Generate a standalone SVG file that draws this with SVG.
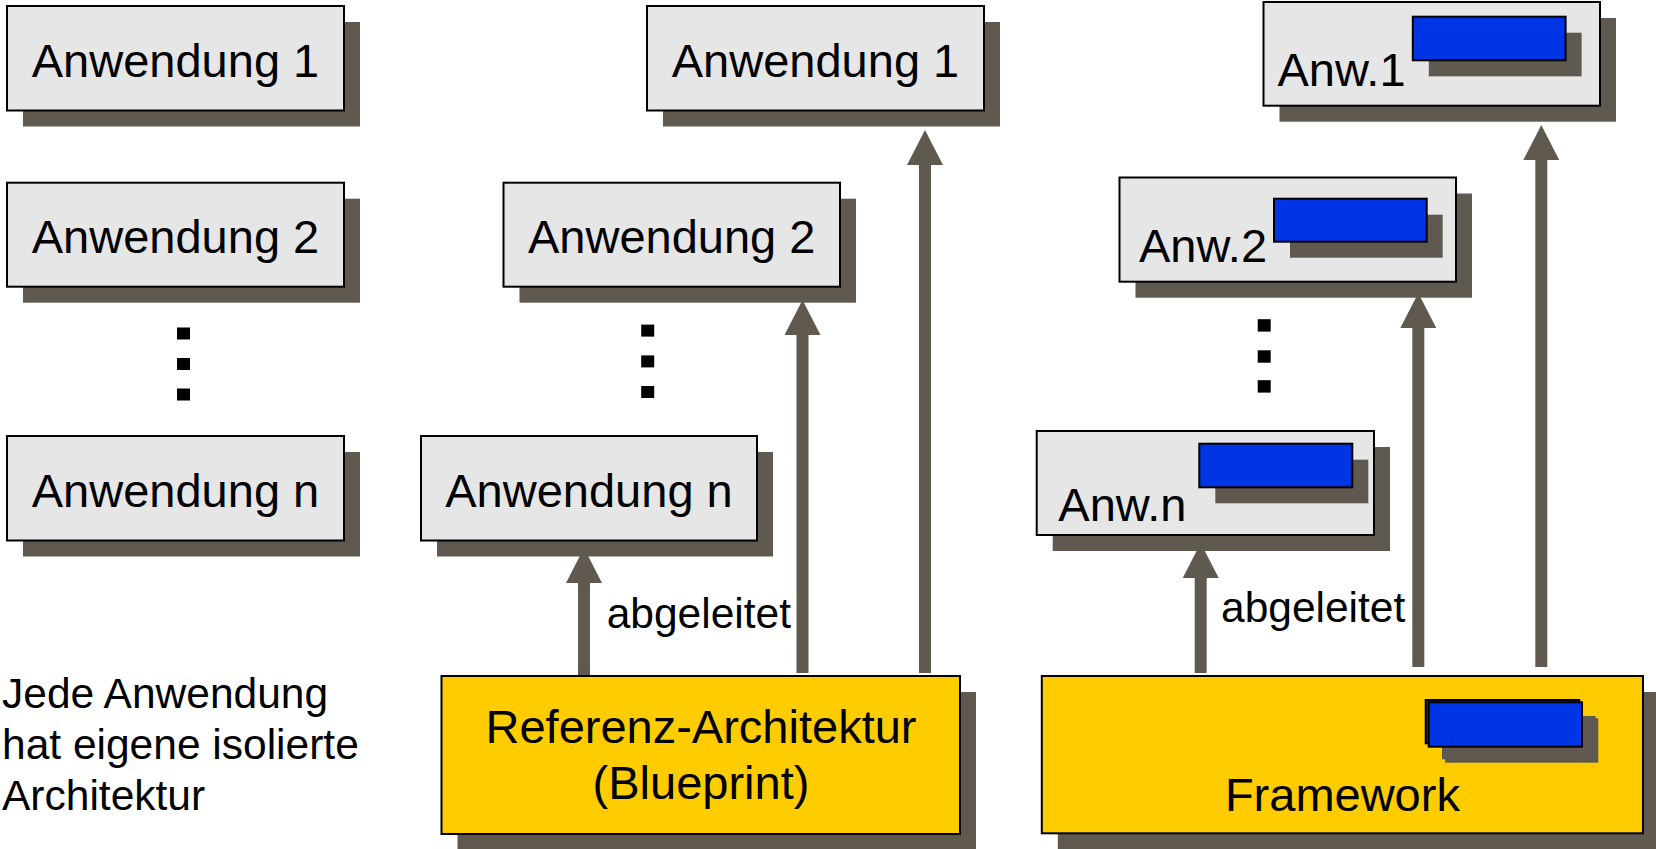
<svg xmlns="http://www.w3.org/2000/svg" width="1656" height="849" viewBox="0 0 1656 849">
<style>
.sh{fill:#5f5950}
.box{fill:#e6e6e6;stroke:#000;stroke-width:2}
.yel{fill:#ffcc00;stroke:#000;stroke-width:2}
.blue{fill:#0035e5;stroke:#000;stroke-width:2}
.dot{fill:#000}
.big{font-family:"Liberation Sans",Arial,sans-serif;font-size:47px;fill:#000}
.mid{text-anchor:middle}
.small{font-family:"Liberation Sans",Arial,sans-serif;font-size:42.5px;fill:#000}
.arr{stroke:#5f5950;stroke-width:12;fill:none;marker-end:url(#head)}
</style>
<defs>
<marker id="head" viewBox="0 0 35 36" refX="0" refY="18" markerWidth="35" markerHeight="36" markerUnits="userSpaceOnUse" orient="auto">
<path d="M0,0 L35,18 L0,36 z" fill="#5f5950"/>
</marker>
</defs>
<rect width="1656" height="849" fill="#fff"/>
<g id="connectors">
<line class="arr" x1="584" y1="678" x2="584" y2="583"/>
<line class="arr" x1="802.5" y1="673" x2="802.5" y2="335"/>
<line class="arr" x1="925" y1="673" x2="925" y2="165"/>
<line class="arr" x1="1200.7" y1="673" x2="1200.7" y2="578"/>
<line class="arr" x1="1418.3" y1="667" x2="1418.3" y2="328"/>
<line class="arr" x1="1541.3" y1="667" x2="1541.3" y2="160"/>
</g>
<g id="left-a1"><rect class="sh" x="23" y="22" width="337" height="104.5"/><rect class="box" x="7" y="6" width="337" height="104.5"/><text class="big mid" x="175.5" y="76.7">Anwendung 1</text></g>
<g id="left-a2"><rect class="sh" x="23" y="198.7" width="337" height="104"/><rect class="box" x="7" y="182.7" width="337" height="104"/><text class="big mid" x="175.5" y="252.5">Anwendung 2</text></g>
<g id="left-dots"><rect class="dot" x="177" y="327.5" width="13" height="12"/><rect class="dot" x="177" y="358" width="13" height="12"/><rect class="dot" x="177" y="388.5" width="13" height="12"/></g>
<g id="left-an"><rect class="sh" x="23" y="452" width="337" height="104.5"/><rect class="box" x="7" y="436" width="337" height="104.5"/><text class="big mid" x="175.5" y="506.5">Anwendung n</text></g>
<g id="left-note"><text class="small" x="2" y="708.3">Jede Anwendung</text><text class="small" x="2" y="759">hat eigene isolierte</text><text class="small" x="2" y="810">Architektur</text></g>
<g id="mid-a1"><rect class="sh" x="663" y="22" width="337" height="104.5"/><rect class="box" x="647" y="6" width="337" height="104.5"/><text class="big mid" x="815.5" y="76.7">Anwendung 1</text></g>
<g id="mid-a2"><rect class="sh" x="519.5" y="198.7" width="336.5" height="104"/><rect class="box" x="503.5" y="182.7" width="336.5" height="104"/><text class="big mid" x="671.7" y="252.5">Anwendung 2</text></g>
<g id="mid-dots"><rect class="dot" x="641.2" y="324.6" width="13" height="12"/><rect class="dot" x="641.2" y="355.4" width="13" height="12"/><rect class="dot" x="641.2" y="386" width="13" height="12"/></g>
<g id="mid-an"><rect class="sh" x="437" y="452" width="336" height="104.5"/><rect class="box" x="421" y="436" width="336" height="104.5"/><text class="big mid" x="589" y="506.5">Anwendung n</text></g>
<g id="mid-label"><text class="small" x="606.7" y="628">abgeleitet</text></g>
<g id="referenz"><rect class="sh" x="457.5" y="692" width="518.5" height="158"/><rect class="yel" x="441.5" y="676" width="518.5" height="158"/><text class="big mid" x="701" y="743">Referenz-Architektur</text><text class="big mid" x="701" y="799">(Blueprint)</text></g>
<g id="right-a1"><rect class="sh" x="1279.5" y="18" width="336.5" height="103.7"/><rect class="box" x="1263.5" y="2" width="336.5" height="103.7"/><rect class="sh" x="1428.8" y="32.7" width="152.8" height="43.6"/><rect class="blue" x="1412.8" y="16.7" width="152.8" height="43.6"/><text class="big" x="1277.5" y="86">Anw.1</text></g>
<g id="right-a2"><rect class="sh" x="1135.5" y="193.5" width="336.5" height="104.2"/><rect class="box" x="1119.5" y="177.5" width="336.5" height="104.2"/><rect class="sh" x="1290" y="214.7" width="152.7" height="43"/><rect class="blue" x="1274" y="198.7" width="152.7" height="43"/><text class="big" x="1139" y="262">Anw.2</text></g>
<g id="right-dots"><rect class="dot" x="1257.7" y="319.2" width="13" height="12.4"/><rect class="dot" x="1257.7" y="350.3" width="13" height="12.4"/><rect class="dot" x="1257.7" y="380.2" width="13" height="12.4"/></g>
<g id="right-an"><rect class="sh" x="1052.7" y="447" width="337.3" height="104"/><rect class="box" x="1036.7" y="431" width="337.3" height="104"/><rect class="sh" x="1215.3" y="459.7" width="153" height="43.6"/><rect class="blue" x="1199.3" y="443.7" width="153" height="43.6"/><text class="big" x="1058.3" y="520.7">Anw.n</text></g>
<g id="right-label"><text class="small" x="1221" y="621.7">abgeleitet</text></g>
<g id="framework"><rect class="sh" x="1057.8" y="692" width="601.2" height="157.3"/><rect class="yel" x="1041.8" y="676" width="601.2" height="157.3"/><rect class="sh" x="1442" y="716" width="153.6" height="43.3"/><rect class="sh" x="1445" y="718.3" width="153.3" height="44.4"/><rect x="1425.7" y="700" width="153.6" height="43.3" fill="#1a2f9a" stroke="#000" stroke-width="2"/><rect class="blue" x="1428.7" y="702.3" width="153.3" height="44.4"/><text class="big mid" x="1342.4" y="811">Framework</text></g>
</svg>
